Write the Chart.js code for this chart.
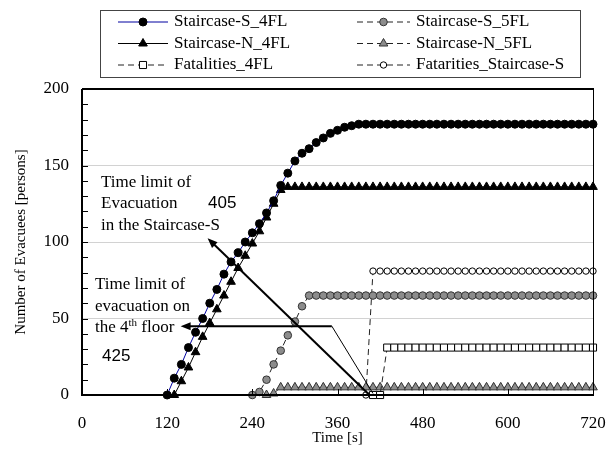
<!DOCTYPE html>
<html>
<head>
<meta charset="utf-8">
<title>Number of evacuees</title>
<script src="https://cdn.jsdelivr.net/npm/chart.js@4.4.1/dist/chart.umd.min.js"></script>
<style>
  html, body { margin: 0; padding: 0; background: #fff; }
  #wrap { width: 608px; height: 453px; }
</style>
</head>
<body>
<div id="wrap"><canvas id="evacChart" width="608" height="453"></canvas></div>
<script>
// time axis [s], one sample every 10 s
const times = [
  120, 130, 140, 150, 160, 170, 180, 190, 200, 210,
  220, 230, 240, 250, 260, 270, 280, 290, 300, 310,
  320, 330, 340, 350, 360, 370, 380, 390, 400, 410,
  420, 430, 440, 450, 460, 470, 480, 490, 500, 510,
  520, 530, 540, 550, 560, 570, 580, 590, 600, 610,
  620, 630, 640, 650, 660, 670, 680, 690, 700, 710,
  720
];

const stairS4 = [
  0, 11, 20, 31, 41, 50, 60, 69, 79, 87,
  93, 100, 106, 112, 119, 127, 137, 145, 153, 158,
  161, 165, 168, 171, 173, 175, 176, 177, 177, 177,
  177, 177, 177, 177, 177, 177, 177, 177, 177, 177,
  177, 177, 177, 177, 177, 177, 177, 177, 177, 177,
  177, 177, 177, 177, 177, 177, 177, 177, 177, 177,
  177
];

const stairN4 = [
  null, 0, 9, 18, 28, 38, 47, 56, 65, 74,
  83, 91, 99, 107, 116, 125, 134, 136, 136, 136,
  136, 136, 136, 136, 136, 136, 136, 136, 136, 136,
  136, 136, 136, 136, 136, 136, 136, 136, 136, 136,
  136, 136, 136, 136, 136, 136, 136, 136, 136, 136,
  136, 136, 136, 136, 136, 136, 136, 136, 136, 136,
  136
];

const fatal4 = [
  null, null, null, null, null, null, null, null, null, null,
  null, null, null, null, null, null, null, null, null, null,
  null, null, null, null, null, null, null, null, null, 0,
  0, 31, 31, 31, 31, 31, 31, 31, 31, 31,
  31, 31, 31, 31, 31, 31, 31, 31, 31, 31,
  31, 31, 31, 31, 31, 31, 31, 31, 31, 31,
  31
];

const stairS5 = [
  null, null, null, null, null, null, null, null, null, null,
  null, null, 0, 2, 10, 20, 29, 39, 48, 58,
  65, 65, 65, 65, 65, 65, 65, 65, 65, 65,
  65, 65, 65, 65, 65, 65, 65, 65, 65, 65,
  65, 65, 65, 65, 65, 65, 65, 65, 65, 65,
  65, 65, 65, 65, 65, 65, 65, 65, 65, 65,
  65
];

const stairN5 = [
  null, null, null, null, null, null, null, null, null, null,
  null, null, null, null, 0, 1, 5, 5, 5, 5,
  5, 5, 5, 5, 5, 5, 5, 5, 5, 5,
  5, 5, 5, 5, 5, 5, 5, 5, 5, 5,
  5, 5, 5, 5, 5, 5, 5, 5, 5, 5,
  5, 5, 5, 5, 5, 5, 5, 5, 5, 5,
  5
];

const fatalS = [
  null, null, null, null, null, null, null, null, null, null,
  null, null, null, null, null, null, null, null, null, null,
  null, null, null, null, null, null, null, null, 0, 81,
  81, 81, 81, 81, 81, 81, 81, 81, 81, 81,
  81, 81, 81, 81, 81, 81, 81, 81, 81, 81,
  81, 81, 81, 81, 81, 81, 81, 81, 81, 81,
  81
];

const seriesNames = [
  'Staircase-S_4FL', 'Staircase-N_4FL', 'Fatalities_4FL',
  'Staircase-S_5FL', 'Staircase-N_5FL', 'Fatarities_Staircase-S'
];

const serif = 'Liberation Serif, Times New Roman, serif';
const sans = 'Liberation Sans, Arial, sans-serif';

function pts(vals) {
  return times.map((t, i) => ({ x: t, y: vals[i] }));
}

function makeSet(label, vals, style) {
  return Object.assign({
    label: label,
    data: pts(vals),
    borderWidth: 1,
    tension: 0,
    clip: false,
    pointBorderWidth: 1,
    pointHoverRadius: 0
  }, style);
}

const datasets = [
  makeSet(seriesNames[0], stairS4, {
    borderColor: '#0000a0', pointStyle: 'circle', pointRadius: 4,
    pointBackgroundColor: '#000', pointBorderColor: '#000'
  }),
  makeSet(seriesNames[1], stairN4, {
    borderColor: '#000', pointStyle: 'triangle', pointRadius: 5,
    pointBackgroundColor: '#000', pointBorderColor: '#000'
  }),
  makeSet(seriesNames[2], fatal4, {
    borderColor: '#222', borderDash: [6, 4], pointStyle: 'rect', pointRadius: 5,
    pointBackgroundColor: '#fff', pointBorderColor: '#000'
  }),
  makeSet(seriesNames[3], stairS5, {
    borderColor: '#222', borderDash: [6, 4], pointStyle: 'circle', pointRadius: 3.8,
    pointBackgroundColor: '#8c8c8c', pointBorderColor: '#333'
  }),
  makeSet(seriesNames[4], stairN5, {
    borderColor: '#222', borderDash: [6, 4], pointStyle: 'triangle', pointRadius: 5,
    pointBackgroundColor: '#8c8c8c', pointBorderColor: '#333'
  }),
  makeSet(seriesNames[5], fatalS, {
    borderColor: '#222', borderDash: [6, 4], pointStyle: 'circle', pointRadius: 3.2,
    pointBackgroundColor: '#fff', pointBorderColor: '#000'
  })
];

function drawMarker(ctx, style, r, x, y, fill, stroke) {
  ctx.beginPath();
  if (style === 'triangle') {
    ctx.moveTo(x, y - r);
    ctx.lineTo(x + r * 0.866, y + r * 0.5);
    ctx.lineTo(x - r * 0.866, y + r * 0.5);
    ctx.closePath();
  } else if (style === 'rect') {
    const s = r * Math.SQRT1_2;
    ctx.rect(x - s, y - s, 2 * s, 2 * s);
  } else {
    ctx.arc(x, y, r, 0, Math.PI * 2);
  }
  ctx.fillStyle = fill;
  ctx.fill();
  ctx.lineWidth = 1;
  ctx.setLineDash([]);
  ctx.strokeStyle = stroke;
  ctx.stroke();
}

function drawArrow(ctx, x0, y0, x1, y1, width) {
  const a = Math.atan2(y1 - y0, x1 - x0);
  const len = 10, half = 4;
  ctx.lineWidth = width;
  ctx.beginPath();
  ctx.moveTo(x0, y0);
  ctx.lineTo(x1 - Math.cos(a) * len * 0.8, y1 - Math.sin(a) * len * 0.8);
  ctx.stroke();
  ctx.beginPath();
  ctx.moveTo(x1, y1);
  ctx.lineTo(x1 - Math.cos(a) * len - Math.sin(a) * half, y1 - Math.sin(a) * len + Math.cos(a) * half);
  ctx.lineTo(x1 - Math.cos(a) * len + Math.sin(a) * half, y1 - Math.sin(a) * len - Math.cos(a) * half);
  ctx.closePath();
  ctx.fill();
}

// plot frame and the small inward ticks
const frame = {
  id: 'frame',
  afterDraw(chart) {
    const { ctx, chartArea: a, scales: { x, y } } = chart;
    ctx.save();
    ctx.strokeStyle = '#000';
    ctx.lineWidth = 1;
    ctx.beginPath();
    y.ticks.forEach(t => {
      if (t.value <= 0 || t.value >= 200) return;
      const py = Math.round(y.getPixelForValue(t.value)) + 0.5;
      ctx.moveTo(a.left, py);
      ctx.lineTo(a.left + 6, py);
    });
    x.ticks.forEach(t => {
      if (t.value <= 0 || t.value >= 720) return;
      const px = Math.round(x.getPixelForValue(t.value)) + 0.5;
      ctx.moveTo(px, a.bottom);
      ctx.lineTo(px, a.bottom - 6);
    });
    ctx.stroke();
    ctx.beginPath();
    ctx.moveTo(a.right + 0.5, a.top);
    ctx.lineTo(a.right + 0.5, a.bottom);
    ctx.stroke();
    ctx.lineWidth = 2;
    ctx.beginPath();
    ctx.moveTo(a.left, a.top);
    ctx.lineTo(a.right + 1, a.top);
    ctx.moveTo(a.left, a.top);
    ctx.lineTo(a.left, a.bottom);
    ctx.lineTo(a.right + 1, a.bottom);
    ctx.stroke();
    ctx.restore();
  }
};

// the two "time limit" notes with arrows
const notes = {
  id: 'notes',
  afterDraw(chart) {
    const { ctx, scales: { x, y } } = chart;
    ctx.save();
    ctx.strokeStyle = '#000';
    ctx.fillStyle = '#000';
    ctx.setLineDash([]);

    drawArrow(ctx, x.getPixelForValue(405), y.getPixelForValue(0),
      x.getPixelForValue(177), y.getPixelForValue(102.5), 2);
    drawArrow(ctx, x.getPixelForValue(352), y.getPixelForValue(45),
      x.getPixelForValue(139), y.getPixelForValue(45), 2);
    ctx.lineWidth = 1;
    ctx.beginPath();
    ctx.moveTo(x.getPixelForValue(352), y.getPixelForValue(45));
    ctx.lineTo(x.getPixelForValue(410), y.getPixelForValue(1));
    ctx.stroke();

    ctx.textBaseline = 'middle';
    ctx.textAlign = 'left';
    ctx.font = '17px ' + serif;
    ctx.fillText('Time limit of', 101, 183);
    ctx.fillText('Evacuation', 101, 204);
    ctx.fillText('in the Staircase-S', 101, 226);
    ctx.fillText('Time limit of', 95, 285);
    ctx.fillText('evacuation on', 95, 307);
    const head = 'the 4';
    ctx.fillText(head, 95, 328);
    let w = ctx.measureText(head).width;
    ctx.font = '11px ' + serif;
    ctx.fillText('th', 95 + w, 323);
    w += ctx.measureText('th').width;
    ctx.font = '17px ' + serif;
    ctx.fillText(' floor', 95 + w, 328);

    ctx.font = '17px ' + sans;
    ctx.fillText('405', 208, 203);
    ctx.fillText('425', 102, 356);
    ctx.restore();
  }
};

// legend box in two columns, drawn from the datasets
const legendBox = {
  id: 'legendBox',
  afterDraw(chart) {
    const ctx = chart.ctx;
    ctx.save();
    ctx.fillStyle = '#fff';
    ctx.fillRect(100, 10, 480, 67);
    ctx.strokeStyle = '#444';
    ctx.lineWidth = 1;
    ctx.strokeRect(100.5, 10.5, 480, 67);
    chart.data.datasets.forEach((ds, i) => {
      const col = Math.floor(i / 3), row = i % 3;
      const x0 = col ? 357 : 118, x1 = col ? 410 : 168;
      const yy = 22 + row * 21.5;
      ctx.strokeStyle = ds.borderColor;
      ctx.lineWidth = 1;
      ctx.setLineDash(ds.borderDash || []);
      ctx.beginPath();
      ctx.moveTo(x0, yy);
      ctx.lineTo(x1, yy);
      ctx.stroke();
      drawMarker(ctx, ds.pointStyle, ds.pointRadius, (x0 + x1) / 2, yy,
        ds.pointBackgroundColor, ds.pointBorderColor);
      ctx.fillStyle = '#000';
      ctx.font = '17px ' + serif;
      ctx.textBaseline = 'middle';
      ctx.fillText(ds.label, x1 + 6, yy);
    });
    ctx.restore();
  }
};

const tickFont = { family: serif, size: 17 };
const titleFont = { family: serif, size: 15 };

new Chart(document.getElementById('evacChart'), {
  type: 'line',
  data: { datasets: datasets },
  options: {
    responsive: false,
    animation: false,
    events: [],
    layout: { padding: { top: 89, right: 15, left: 0, bottom: 0 } },
    plugins: {
      legend: { display: false },
      tooltip: { enabled: false }
    },
    scales: {
      x: {
        type: 'linear',
        min: 0,
        max: 720,
        afterFit: s => { s.height = 58; s.paddingLeft = 0; s.paddingRight = 0; },
        grid: { display: false, drawTicks: false },
        border: { display: false },
        ticks: { stepSize: 120, padding: 18, color: '#000', font: tickFont, maxRotation: 0 },
        title: {
          display: true, text: 'Time [s]', color: '#000', font: titleFont,
          padding: { top: 0, bottom: 6 }
        }
      },
      y: {
        type: 'linear',
        min: 0,
        max: 200,
        afterFit: s => { s.width = 82; s.paddingTop = 0; s.paddingBottom = 0; },
        grid: {
          drawTicks: false,
          lineWidth: 1,
          color: c => (c.tick && c.tick.value % 50 === 0 && c.tick.value > 0 && c.tick.value < 200)
            ? '#d2d2d2' : 'rgba(0,0,0,0)'
        },
        border: { display: false },
        ticks: {
          stepSize: 10, autoSkip: false, padding: 13, color: '#000', font: tickFont,
          callback: v => (v % 50 === 0 ? v : '')
        },
        title: {
          display: true, text: 'Number of Evacuees [persons]', color: '#000', font: titleFont,
          padding: { top: 12, bottom: 0 }
        }
      }
    }
  },
  plugins: [frame, notes, legendBox]
});
</script>
</body>
</html>
